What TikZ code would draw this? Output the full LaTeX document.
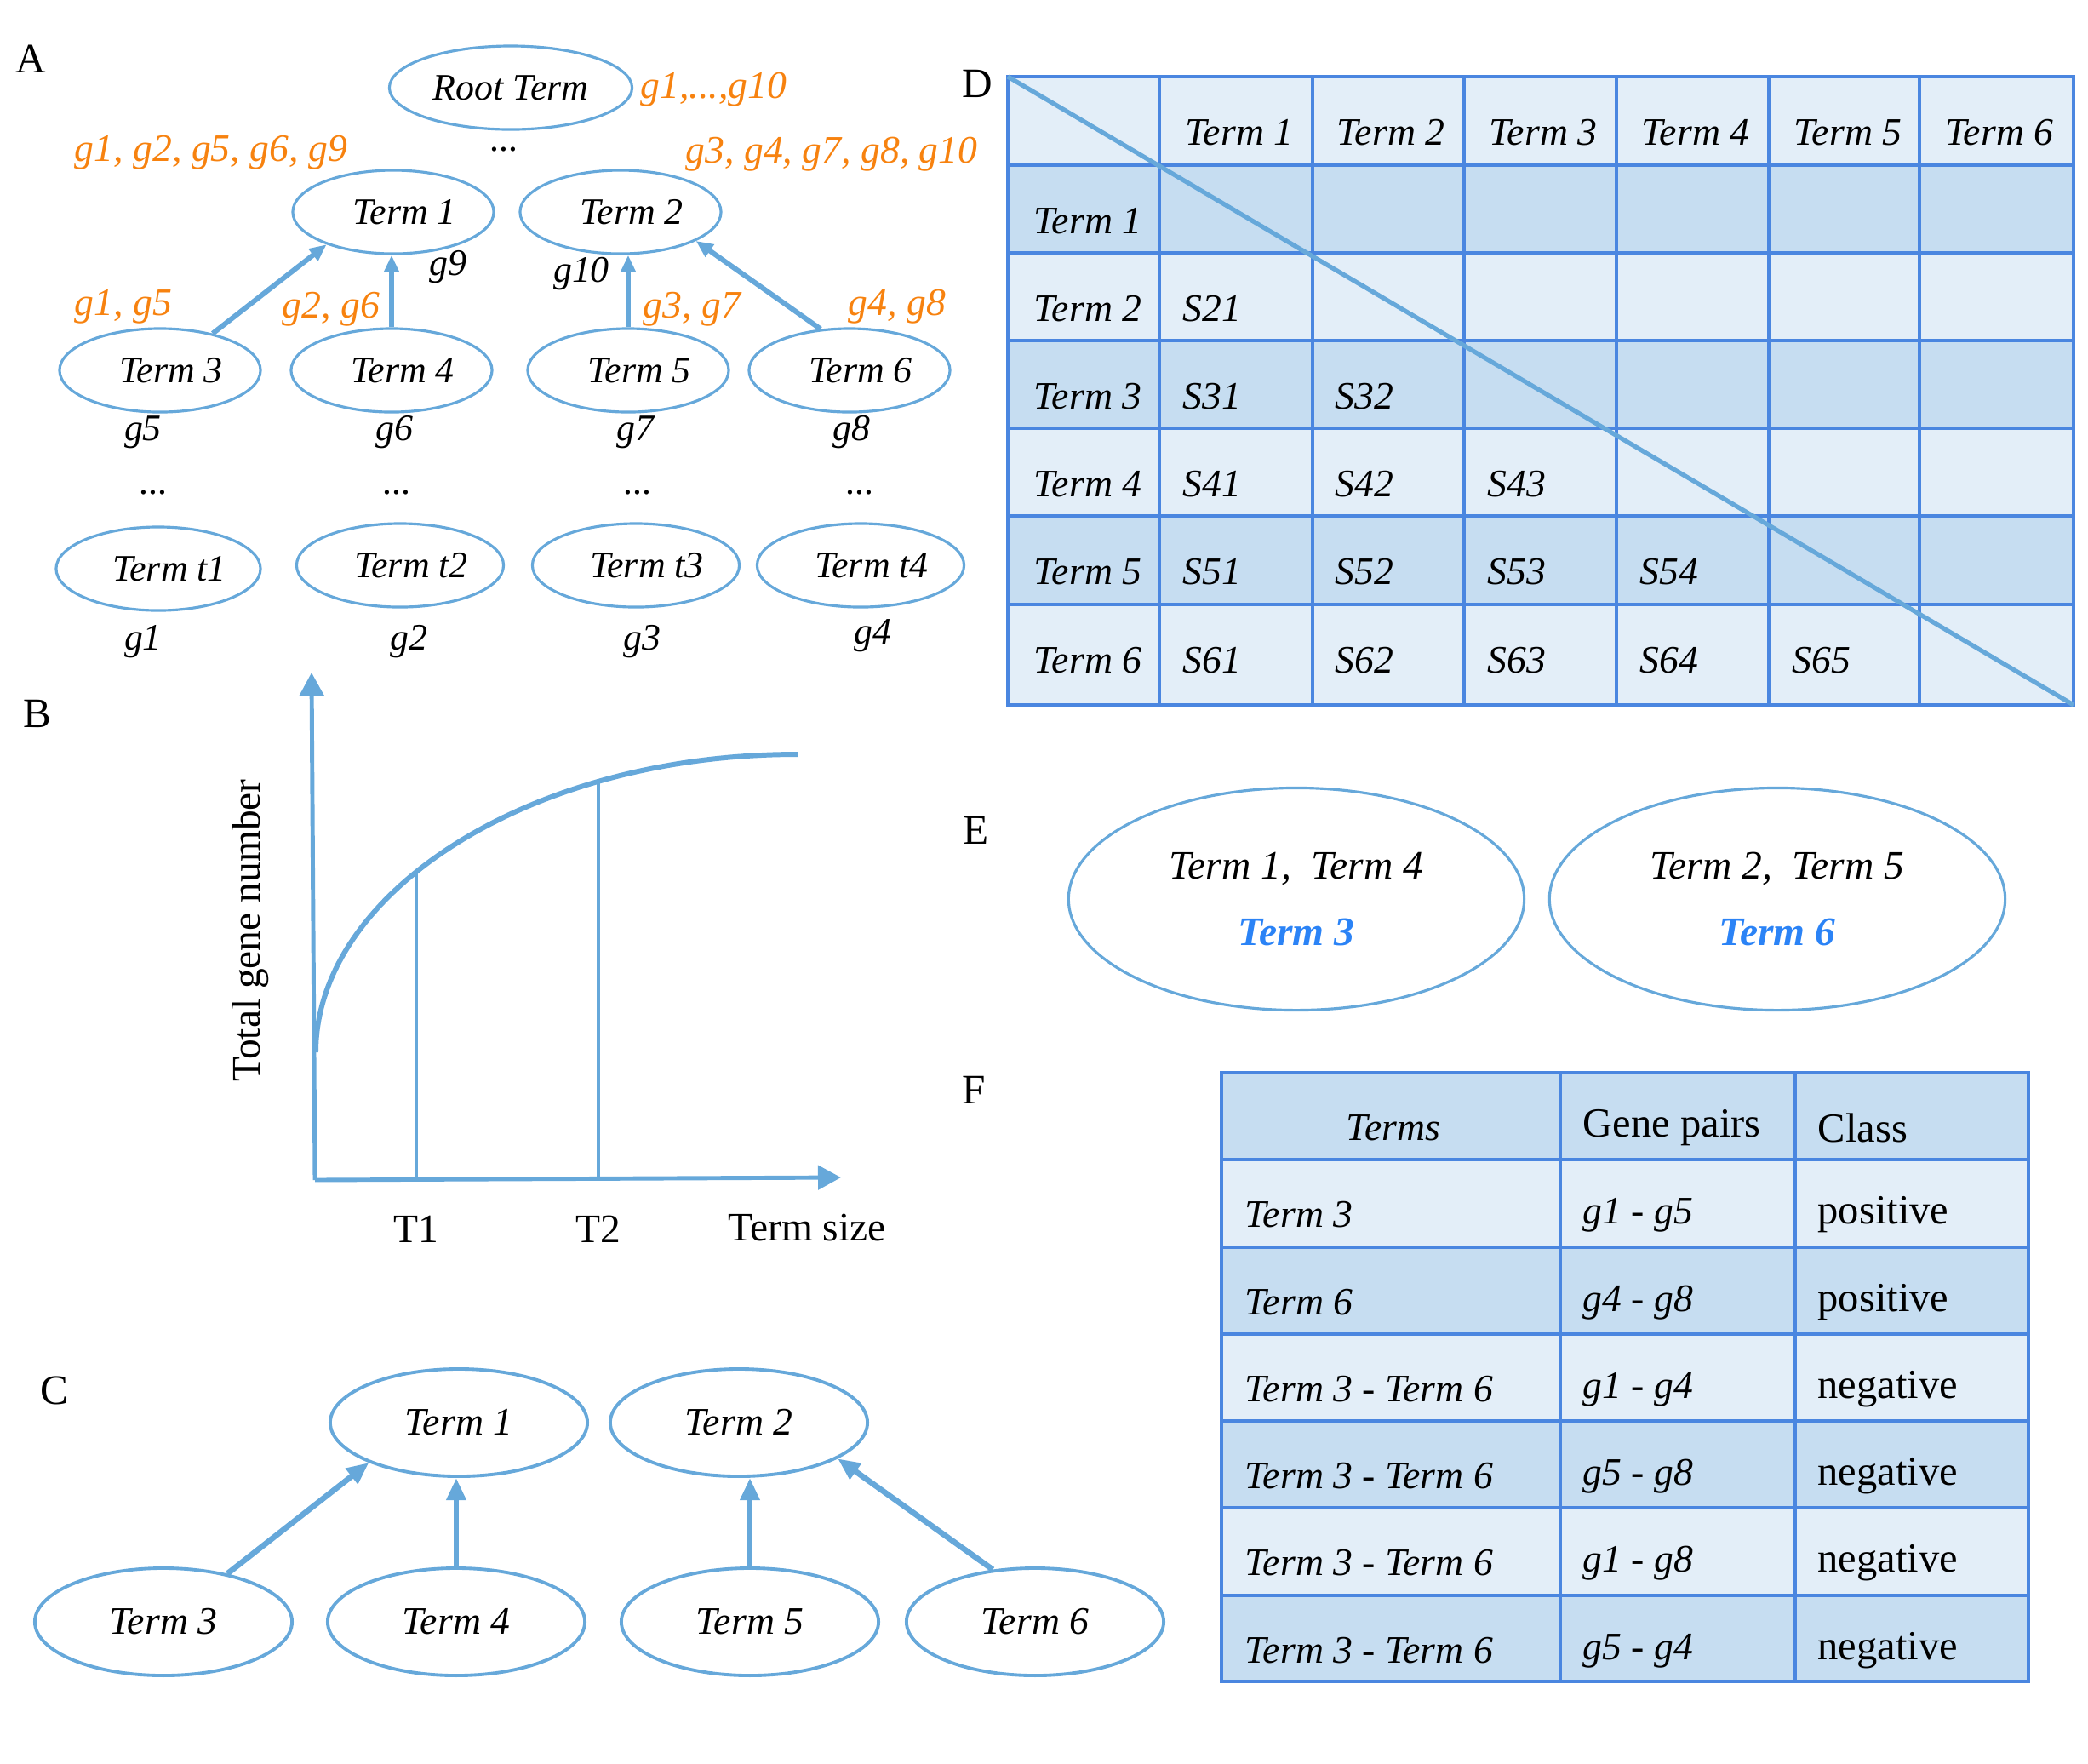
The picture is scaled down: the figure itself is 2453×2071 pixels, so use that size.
\documentclass[tikz,border=0pt]{standalone}
\usepackage{fontspec}
\setmainfont{Liberation Serif}
\usepackage{tikz}
\usetikzlibrary{shapes.geometric, arrows.meta, positioning}
\definecolor{linkblue}{HTML}{66A8DA}
\definecolor{gridblue}{HTML}{4A86E0}
\definecolor{cellpale}{HTML}{E3EEF8}
\definecolor{celldark}{HTML}{C6DDF1}
\definecolor{geneorange}{HTML}{F7820F}
\definecolor{pickblue}{HTML}{2B83F6}

\begin{document}
\begin{tikzpicture}[
  x = 0.01cm, y = -0.01cm,
  term/.style    = {ellipse, draw=linkblue, line width=0.9pt, minimum width=2.36cm, minimum height=0.98cm,
                    inner sep=0pt, font=\fontsize{12.5}{15}\selectfont\itshape},
  aterm/.style   = {term, execute at begin node={\hspace*{0.26cm}}},
  cterm/.style   = {term, line width=1.1pt, minimum width=3.02cm, minimum height=1.26cm,
                    font=\fontsize{13}{16}\selectfont\itshape},
  setoval/.style = {ellipse, draw=linkblue, line width=0.9pt, minimum width=5.35cm, minimum height=2.61cm,
                    inner sep=0pt, align=center, font=\fontsize{13.5}{22}\selectfont\itshape},
  gene/.style    = {inner sep=0pt, font=\fontsize{12.5}{15}\selectfont\itshape},
  hit/.style     = {gene, text=geneorange, font=\fontsize{13}{15}\selectfont\itshape},
  panel/.style   = {inner sep=0pt, font=\fontsize{14}{16}\selectfont},
  axlab/.style   = {inner sep=0pt, font=\fontsize{13.5}{16}\selectfont},
  cell/.style    = {anchor=west, inner sep=0pt, font=\fontsize{13.8}{16}\selectfont},
  icell/.style   = {cell, font=\fontsize{13}{16}\selectfont\itshape},
  rule/.style    = {draw=gridblue, line width=1.3pt},
  arr/.style     = {-{Triangle[length=0.2cm, width=0.17cm]}, draw=linkblue, line width=1.7pt},
  carr/.style    = {arr, -{Triangle[length=0.26cm, width=0.22cm]}, line width=1.9pt},
  axis/.style    = {-{Triangle[length=0.27cm, width=0.28cm]}, draw=linkblue, line width=1.4pt},
]
  \useasboundingbox (0,0) rectangle (2453,2071);

  % A: term hierarchy with gene annotation
  \node[panel] (labA) at (36,69) {A};
  \node[term, minimum width=2.85cm] (root) at (600,103) {Root Term};
  \node[hit, anchor=west] (rootgenes) at (752,105) {g1,...,g10};
  \node[gene] (dotsroot) at (593,176) {...};

  \node[aterm] (t1) at (462,249) {Term 1};
  \node[aterm] (t2) at (729,249) {Term 2};
  \node[hit] (t1genes) at (248,179) {g1, g2, g5, g6, g9};
  \node[hit] (t2genes) at (977,181) {g3, g4, g7, g8, g10};
  \node[gene] (g9) at (526,314) {g9};
  \node[gene] (g10) at (683,322) {g10};

  \node[aterm] (t3) at (188,435) {Term 3};
  \node[aterm] (t4) at (460,435) {Term 4};
  \node[aterm] (t5) at (738,435) {Term 5};
  \node[aterm] (t6) at (998,435) {Term 6};
  \node[hit] (t3genes) at (145,360) {g1, g5};
  \node[hit] (t4genes) at (389,363) {g2, g6};
  \node[hit] (t5genes) at (813,363) {g3, g7};
  \node[hit] (t6genes) at (1054,360) {g4, g8};
  \node[gene] (g5) at (168,508) {g5};
  \node[gene] (g6) at (463,508) {g6};
  \node[gene] (g7) at (746,508) {g7};
  \node[gene] (g8) at (1000,508) {g8};
  \node[gene] (dots3) at (181,579) {...};
  \node[gene] (dots4) at (467,579) {...};
  \node[gene] (dots5) at (750,579) {...};
  \node[gene] (dots6) at (1011,579) {...};

  \node[aterm, minimum width=2.4cm]  (tt1) at (186,668) {Term t1};
  \node[aterm, minimum width=2.43cm] (tt2) at (470,664) {Term t2};
  \node[aterm, minimum width=2.43cm] (tt3) at (747,664) {Term t3};
  \node[aterm, minimum width=2.43cm] (tt4) at (1011,664) {Term t4};
  \node[gene] (g1) at (168,754) {g1};
  \node[gene] (g2) at (480,754) {g2};
  \node[gene] (g3) at (754,754) {g3};
  \node[gene] (g4) at (1025,747) {g4};

  \draw[arr] (t3.35) -- (t1.206);
  \draw[arr] (t4.north) -- (t4.north |- t1.south);
  \draw[arr] (t5.north) -- (t5.north |- t2.south);
  \draw[arr] (t6.125) -- (t2.339);

  % B: total gene number against term size
  \node[panel] (labB) at (44,838) {B};
  \coordinate (orig) at (370,1386);
  \coordinate (ytip) at (366,790);
  \coordinate (xtip) at (988,1383);
  \draw[axis] (orig) -- (ytip);
  \draw[axis] (orig) -- (xtip);
  \draw[draw=linkblue, line width=1.7pt] (371,1236) .. controls (371,1050) and (620,886) .. (937,886)
    coordinate[pos=0.42] (cut1) coordinate[pos=0.735] (cut2);
  \draw[linkblue, line width=1.2pt] (cut1) -- (cut1 |- orig);
  \draw[linkblue, line width=1.2pt] (cut2) -- (cut2 |- orig);
  \node[axlab] (lt1) at (489,1444) {T1};
  \node[axlab] (lt2) at (703,1444) {T2};
  \node[axlab] (lsize) at (948,1442) {Term size};
  \node[axlab, rotate=90] (lgenes) at (294,1093) {Total gene number};

  % C: reduced hierarchy
  \node[panel] (labC) at (64,1633) {C};
  \node[cterm] (c1) at (539,1671) {Term 1};
  \node[cterm] (c2) at (868,1671) {Term 2};
  \node[cterm] (c3) at (192,1905) {Term 3};
  \node[cterm] (c4) at (536,1905) {Term 4};
  \node[cterm] (c5) at (881,1905) {Term 5};
  \node[cterm] (c6) at (1216,1905) {Term 6};
  \draw[carr] (c3.37) -- (c1.204);
  \draw[carr] (c4.north) -- (c4.north |- c1.south);
  \draw[carr] (c5.north) -- (c5.north |- c2.south);
  \draw[carr] (c6.129) -- (c2.340);

  % D: pairwise similarity matrix
  \node[panel] (labD) at (1148,98) {D};
  \foreach \ya/\yb/\tone in {90/194/cellpale, 194/297/celldark, 297/400/cellpale, 400/503/celldark,
                             503/606/cellpale, 606/710/celldark, 710/828/cellpale}
    \fill[\tone] (1184,\ya) rectangle (2436,\yb);
  \foreach \xx in {1362,1542,1720,1899,2078,2255}
    \draw[rule] (\xx,90) -- (\xx,828);
  \foreach \yy in {194,297,400,503,606,710}
    \draw[rule] (1184,\yy) -- (2436,\yy);
  \draw[rule] (1184,90) rectangle (2436,828);
  \draw[linkblue, line width=1.5pt] (1184,90) -- (2436,828);
  \foreach \xx [count=\i] in {1392,1570,1749,1928,2107,2285}
    \node[icell] (colterm\i) at (\xx,156) {Term \i};
  \foreach \yy [count=\i] in {260,363,466,569,672,776}
    \node[icell] (rowterm\i) at (1214,\yy) {Term \i};
  \foreach \i/\yy in {2/363, 3/466, 4/569, 5/672, 6/776} {
    \pgfmathtruncatemacro{\last}{\i-1}
    \foreach \j in {1,...,\last}
      \node[icell] (sim\i\j) at ({1389+179*(\j-1)},\yy) {S\i\j};
  }

  % E: groups of terms
  \node[panel] (labE) at (1147,975) {E};
  \node[setoval] (set1) at (1523,1056) {Term 1,~~Term 4\\{\bfseries\color{pickblue}Term 3}};
  \node[setoval] (set2) at (2088,1056) {Term 2,~~Term 5\\{\bfseries\color{pickblue}Term 6}};

  % F: gene pair classes
  \node[panel] (labF) at (1144,1280) {F};
  \foreach \ya/\yb/\tone in {1260/1362/celldark, 1362/1465/cellpale, 1465/1567/celldark, 1567/1669/cellpale,
                             1669/1771/celldark, 1771/1874/cellpale, 1874/1975/celldark}
    \fill[\tone] (1435,\ya) rectangle (2383,\yb);
  \foreach \xx in {1833,2109}
    \draw[rule] (\xx,1260) -- (\xx,1975);
  \foreach \yy in {1362,1465,1567,1669,1771,1874}
    \draw[rule] (1435,\yy) -- (2383,\yy);
  \draw[rule] (1435,1260) rectangle (2383,1975);
  \node[icell, anchor=center] (hterms) at (1637,1325) {Terms};
  \node[cell] (hpairs) at (1859,1325) {Gene pairs};
  \node[cell] (hclass) at (2135,1325) {Class};
  \foreach \yy/\tm/\gp/\cl [count=\k] in {1427/Term 3/g1 - g5/positive, 1530/Term 6/g4 - g8/positive,
      1632/Term 3 - Term 6/g1 - g4/negative, 1734/Term 3 - Term 6/g5 - g8/negative,
      1836/Term 3 - Term 6/g1 - g8/negative, 1939/Term 3 - Term 6/g5 - g4/negative} {
    \node[icell] (pterm\k) at (1462,\yy) {\tm};
    \node[icell] (ppair\k) at (1859,\yy) {\gp};
    \node[cell] (pclass\k) at (2135,\yy) {\cl};
  }
\end{tikzpicture}
\end{document}
